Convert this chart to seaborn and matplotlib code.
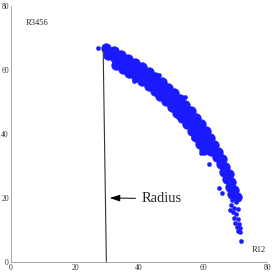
import pandas as pd
import seaborn as sns
import matplotlib.pyplot as plt

# dense part of the point cloud (outer / middle / inner rows)
band_x = [29.8, 32.1, 34.4, 36.7, 38.8, 41.0, 43.1, 45.1, 47.1, 49.0, 50.9, 52.7, 54.5,
          56.1, 57.8, 59.3, 60.8, 62.2, 63.5, 64.7, 65.9, 67.0, 68.0, 68.9, 69.7, 70.5,
          30.2, 32.5, 34.7, 36.8, 38.9, 41.0, 43.0, 45.0, 46.9, 48.8, 50.6, 52.3, 54.0,
          55.6, 57.1, 58.6, 60.0, 61.3, 62.5, 64.4, 65.5, 66.6, 67.5, 68.4, 69.1,
          32.8, 34.9, 37.0, 39.0, 41.0, 43.0, 44.9, 46.7, 48.5, 50.2, 51.9, 53.5, 55.0,
          56.5, 57.9, 59.2, 60.4]
band_y = [67.0, 65.9, 64.7, 63.5, 62.2, 60.8, 59.3, 57.8, 56.1, 54.5, 52.7, 50.9, 49.0,
          47.1, 45.1, 43.1, 41.0, 38.8, 36.7, 34.4, 32.1, 29.8, 27.5, 25.1, 22.6, 20.2,
          64.8, 63.7, 62.5, 61.3, 60.0, 58.6, 57.1, 55.6, 54.0, 52.3, 50.6, 48.8, 46.9,
          45.0, 43.0, 41.0, 38.9, 36.8, 34.7, 32.8, 30.6, 28.2, 25.9, 23.5, 21.1,
          61.6, 60.4, 59.2, 57.9, 56.5, 55.0, 53.5, 51.9, 50.2, 48.5, 46.7, 44.9, 43.0,
          41.0, 39.0, 37.0, 34.9]

# sparse tail and stray points
stray_x = [27.3, 38.4, 46.3, 54.4, 52.1, 56.9, 59.4, 61.9, 65.0, 65.9, 68.4, 71.9,
           69.0, 70.3, 68.6, 69.8, 71.0, 69.3, 70.4, 69.6, 70.9, 70.0, 71.2, 70.5,
           71.6, 70.9, 71.5]
stray_y = [67.0, 56.6, 58.4, 51.6, 45.4, 38.7, 34.2, 30.6, 23.2, 21.5, 16.3, 6.7,
           19.5, 18.8, 17.8, 17.0, 16.5, 15.6, 14.9, 13.8, 13.4, 12.3, 11.8, 10.9,
           10.6, 9.7, 9.4]

radius_x = [29.8, 28.8]
radius_y = [0, 66.3]

band = pd.DataFrame({'x': band_x, 'y': band_y})
stray = pd.DataFrame({'x': stray_x, 'y': stray_y})

sns.set_theme(style='white')
plt.rcParams['font.family'] = ['Liberation Serif', 'DejaVu Serif']

fig = plt.figure(figsize=(2.73, 2.75), dpi=100)
ax = fig.add_axes([11 / 273, 13 / 275, 256 / 273, 256 / 275])

blue = '#1a1aff'
sns.scatterplot(x='x', y='y', data=band, color=blue, edgecolor=blue, s=50,
                linewidth=0.3, ax=ax)
sns.scatterplot(x='x', y='y', data=stray, color=blue, edgecolor=blue, s=9,
                linewidth=0.3, ax=ax)

ax.plot(radius_x, radius_y, color='#333333', lw=0.8)
ax.annotate('Radius', xy=(30.9, 20), xytext=(40.8, 19.8), ha='left', va='center',
            fontsize=10.5,
            arrowprops=dict(arrowstyle='-|>,head_length=0.6,head_width=0.2',
                            color='black', lw=0.7, shrinkA=2, shrinkB=0,
                            mutation_scale=10))
ax.text(4.7, 74.6, 'R3456', fontsize=6, va='center')
ax.text(75.2, 3.75, 'R12', fontsize=6, va='center')

ax.set_xlim(0, 80)
ax.set_ylim(0, 80)
ax.set_xticks([0, 20, 40, 60, 80])
ax.set_yticks([0, 20, 40, 60, 80])
ax.set_xticks(range(0, 81, 5), minor=True)
ax.set_yticks(range(0, 81, 5), minor=True)
ax.set_xlabel('')
ax.set_ylabel('')
ax.tick_params(which='both', direction='in', color='#999999', labelsize=5.5,
               labelcolor='#333333', pad=1.5)
ax.tick_params(which='major', length=3.5, width=0.6)
ax.tick_params(which='minor', length=2, width=0.5)
for side in ['top', 'right']:
    ax.spines[side].set_visible(False)
for side in ['left', 'bottom']:
    ax.spines[side].set_color('#999999')
    ax.spines[side].set_linewidth(0.6)
ax.patch.set_alpha(0)

plt.savefig('out.png', dpi=100)
